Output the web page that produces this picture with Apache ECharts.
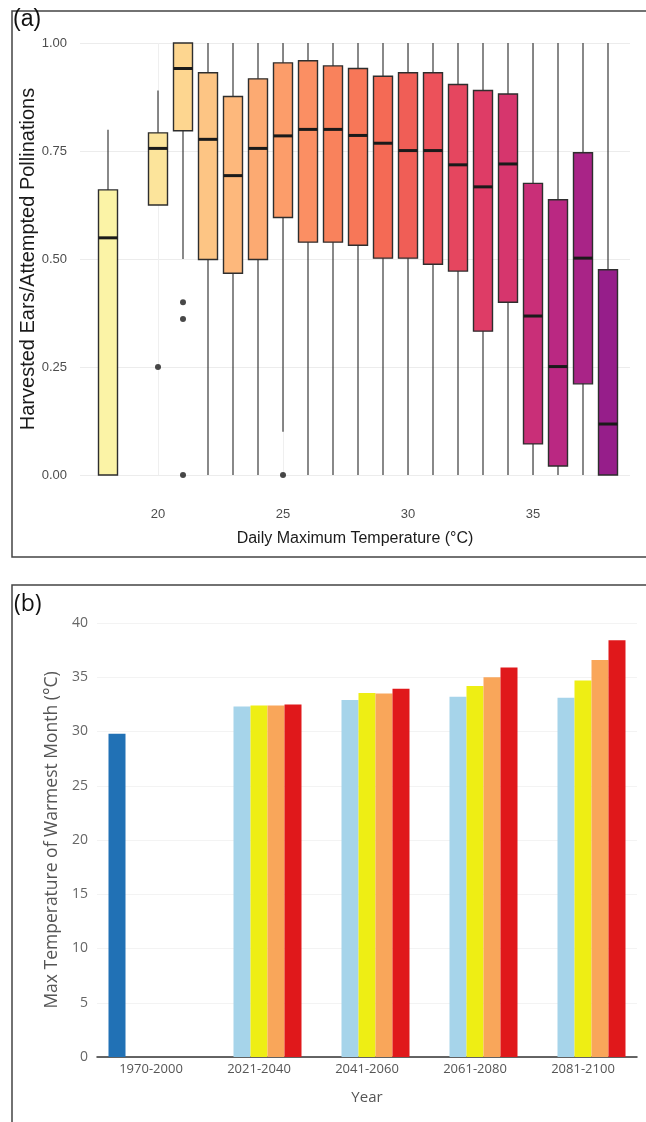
<!DOCTYPE html>
<html>
<head>
<meta charset="utf-8">
<title>Harvested ears and warmest month temperature</title>
<script src="https://cdn.jsdelivr.net/npm/echarts@6/dist/echarts.min.js"></script>
<style>
  html, body { margin: 0; padding: 0; background: #fff; }
  #main { width: 646px; height: 1122px; }
</style>
</head>
<body>
<div id="main"></div>
<script>
// (a) box plot data, one entry per daily max temperature
var temps   = [18, 20, 21, 22, 23, 24, 25, 26, 27, 28, 29, 30, 31, 32, 33, 34, 35, 36, 37, 38];
var lowW    = [0, 0.625, 0.5, 0, 0, 0, 0.1, 0, 0, 0, 0, 0, 0, 0, 0, 0, 0, 0, 0, 0];
var q1      = [0, 0.625, 0.797, 0.499, 0.467, 0.499, 0.596, 0.539, 0.539, 0.532, 0.502, 0.502, 0.488, 0.472, 0.333, 0.400, 0.072, 0.021, 0.211, 0];
var medians = [0.549, 0.756, 0.941, 0.777, 0.693, 0.756, 0.785, 0.800, 0.800, 0.786, 0.768, 0.751, 0.751, 0.718, 0.667, 0.720, 0.368, 0.251, 0.502, 0.118];
var q3      = [0.660, 0.792, 1.0, 0.931, 0.876, 0.917, 0.954, 0.959, 0.947, 0.941, 0.923, 0.931, 0.931, 0.904, 0.890, 0.882, 0.675, 0.637, 0.746, 0.475];
var highW   = [0.799, 0.890, 1, 1, 1, 1, 1, 1, 1, 1, 1, 1, 1, 1, 1, 1, 1, 1, 1, 1];
// outliers
var outlierTemps  = [20, 21, 21, 21, 25];
var outlierValues = [0.25, 0.40, 0.361, 0, 0];
var tempTicks = [20, 25, 30, 35];

// (b) bar chart data
var periods = ['1970-2000', '2021-2040', '2041-2060', '2061-2080', '2081-2100'];
var baseline = [29.8, null, null, null, null];
var ssp126 = [null, 32.3, 32.9, 33.2, 33.1];
var ssp245 = [null, 32.4, 33.55, 34.2, 34.7];
var ssp370 = [null, 32.4, 33.5, 35.0, 36.6];
var ssp585 = [null, 32.5, 33.95, 35.9, 38.4];

// box fill colours, yellow -> purple
var boxColors = ['#fbf3a6', '#fce49b', '#fdd690', '#fdc584', '#fdb87c', '#fcaa72', '#fc9d6a', '#fb8f63',
  '#f9825c', '#f77758', '#f46a55', '#f05e56', '#ec515a', '#e5465f', '#de3c66', '#d6366d',
  '#c92f78', '#ba2882', '#a92487', '#961e8a'];

var boxData = temps.map(function (t, i) {
  return [t, lowW[i], q1[i], medians[i], q3[i], highW[i]];
});
var outlierData = outlierTemps.map(function (t, i) { return [t, outlierValues[i]]; });

var myChart = echarts.init(document.getElementById('main'));

// whisker + box + median for one temperature
function renderBox(params, api) {
  var x = api.value(0);
  var pLow = api.coord([x, api.value(1)]);
  var pQ1 = api.coord([x, api.value(2)]);
  var pMed = api.coord([x, api.value(3)]);
  var pQ3 = api.coord([x, api.value(4)]);
  var pHigh = api.coord([x, api.value(5)]);
  var w = api.size([0.76, 0])[0];
  var cx = pQ1[0];
  return {
    type: 'group',
    children: [
      { type: 'line', shape: { x1: cx, y1: pLow[1], x2: cx, y2: pHigh[1] },
        style: { stroke: '#3a3a3a', lineWidth: 1.2 } },
      { type: 'rect', shape: { x: cx - w / 2, y: pQ3[1], width: w, height: pQ1[1] - pQ3[1] },
        style: { fill: boxColors[params.dataIndex], stroke: '#2e2e2e', lineWidth: 1.4 } },
      { type: 'line', shape: { x1: cx - w / 2, y1: pMed[1], x2: cx + w / 2, y2: pMed[1] },
        style: { stroke: '#1a1a1a', lineWidth: 3 } }
    ]
  };
}

var option = {
  backgroundColor: '#fff',
  animation: false,
  graphic: [
    { type: 'rect', shape: { x: 12, y: 11, width: 700, height: 546 },
      style: { fill: 'none', stroke: '#444', lineWidth: 1.5 }, z: 100 },
    { type: 'rect', shape: { x: 12, y: 585, width: 700, height: 600 },
      style: { fill: 'none', stroke: '#444', lineWidth: 1.5 }, z: 100 },
    { type: 'text', left: 13, top: 8, z: 100,
      style: { text: '(a)', fontSize: 23, fontFamily: 'Liberation Sans', fill: '#111' } },
    { type: 'text', left: 14, top: 593, z: 100,
      style: { text: '(b)', fontSize: 23, fontFamily: 'Open Sans', fill: '#111' } }
  ],
  grid: [
    { left: 80, right: 16, top: 43, height: 432 },
    { left: 97, right: 9, top: 623, height: 434 }
  ],
  xAxis: [
    {
      gridIndex: 0, type: 'value', min: 16.88, max: 38.88,
      name: 'Daily Maximum Temperature (°C)', nameLocation: 'middle', nameGap: 56,
      nameTextStyle: { fontSize: 16, color: '#1a1a1a', fontFamily: 'Liberation Sans' },
      axisLine: { show: false }, axisTick: { show: false, customValues: tempTicks },
      axisLabel: { customValues: tempTicks, margin: 33, fontSize: 13, color: '#4d4d4d', fontFamily: 'Liberation Sans' },
      splitLine: { show: true, lineStyle: { color: '#efefef' } }
    },
    {
      gridIndex: 1, type: 'category', data: periods,
      name: 'Year', nameLocation: 'middle', nameGap: 33,
      nameTextStyle: { fontSize: 15, color: '#555', fontFamily: 'Open Sans' },
      axisLine: { lineStyle: { color: '#333', width: 1.5 } }, axisTick: { show: false },
      axisLabel: { margin: 6, fontSize: 13, color: '#555', fontFamily: 'Open Sans' }
    }
  ],
  yAxis: [
    {
      gridIndex: 0, type: 'value', min: 0, max: 1, interval: 0.25,
      name: 'Harvested Ears/Attempted Pollinations', nameLocation: 'middle', nameGap: 42,
      nameMoveOverlap: false,
      nameTextStyle: { fontSize: 20, color: '#1a1a1a', fontFamily: 'Liberation Sans' },
      axisLine: { show: false }, axisTick: { show: false },
      axisLabel: { margin: 13, fontSize: 13, color: '#4d4d4d', fontFamily: 'Liberation Sans',
        formatter: function (v) { return v.toFixed(2); } },
      splitLine: { lineStyle: { color: '#ececec' } }
    },
    {
      gridIndex: 1, type: 'value', min: 0, max: 40, interval: 5,
      name: 'Max Temperature of Warmest Month (°C)', nameLocation: 'middle', nameGap: 36,
      nameTextStyle: { fontSize: 17.5, color: '#555', fontFamily: 'Open Sans' },
      axisLine: { show: false }, axisTick: { show: false },
      axisLabel: { margin: 9, fontSize: 14, color: '#666', fontFamily: 'Open Sans' },
      splitLine: { lineStyle: { color: '#f3f3f3' } }
    }
  ],
  series: [
    {
      name: 'Harvested ears', type: 'custom', xAxisIndex: 0, yAxisIndex: 0,
      renderItem: renderBox, data: boxData, clip: false,
      encode: { x: 0, y: [1, 2, 3, 4, 5] }
    },
    {
      name: 'Outliers', type: 'scatter', xAxisIndex: 0, yAxisIndex: 0,
      data: outlierData, symbolSize: 6, itemStyle: { color: '#1a1a1a' }, z: 5
    },
    { name: '1970-2000', type: 'bar', xAxisIndex: 1, yAxisIndex: 1, data: baseline,
      barWidth: 17, barGap: '0%', itemStyle: { color: '#2171b5' } },
    { name: 'SSP1-2.6', type: 'bar', xAxisIndex: 1, yAxisIndex: 1, data: ssp126,
      barWidth: 17, barGap: '0%', itemStyle: { color: '#a6d4ea' } },
    { name: 'SSP2-4.5', type: 'bar', xAxisIndex: 1, yAxisIndex: 1, data: ssp245,
      barWidth: 17, barGap: '0%', itemStyle: { color: '#eeee14' } },
    { name: 'SSP3-7.0', type: 'bar', xAxisIndex: 1, yAxisIndex: 1, data: ssp370,
      barWidth: 17, barGap: '0%', itemStyle: { color: '#f9a65a' } },
    { name: 'SSP5-8.5', type: 'bar', xAxisIndex: 1, yAxisIndex: 1, data: ssp585,
      barWidth: 17, barGap: '0%', itemStyle: { color: '#e0181b' } }
  ]
};

myChart.setOption(option);
</script>
</body>
</html>
